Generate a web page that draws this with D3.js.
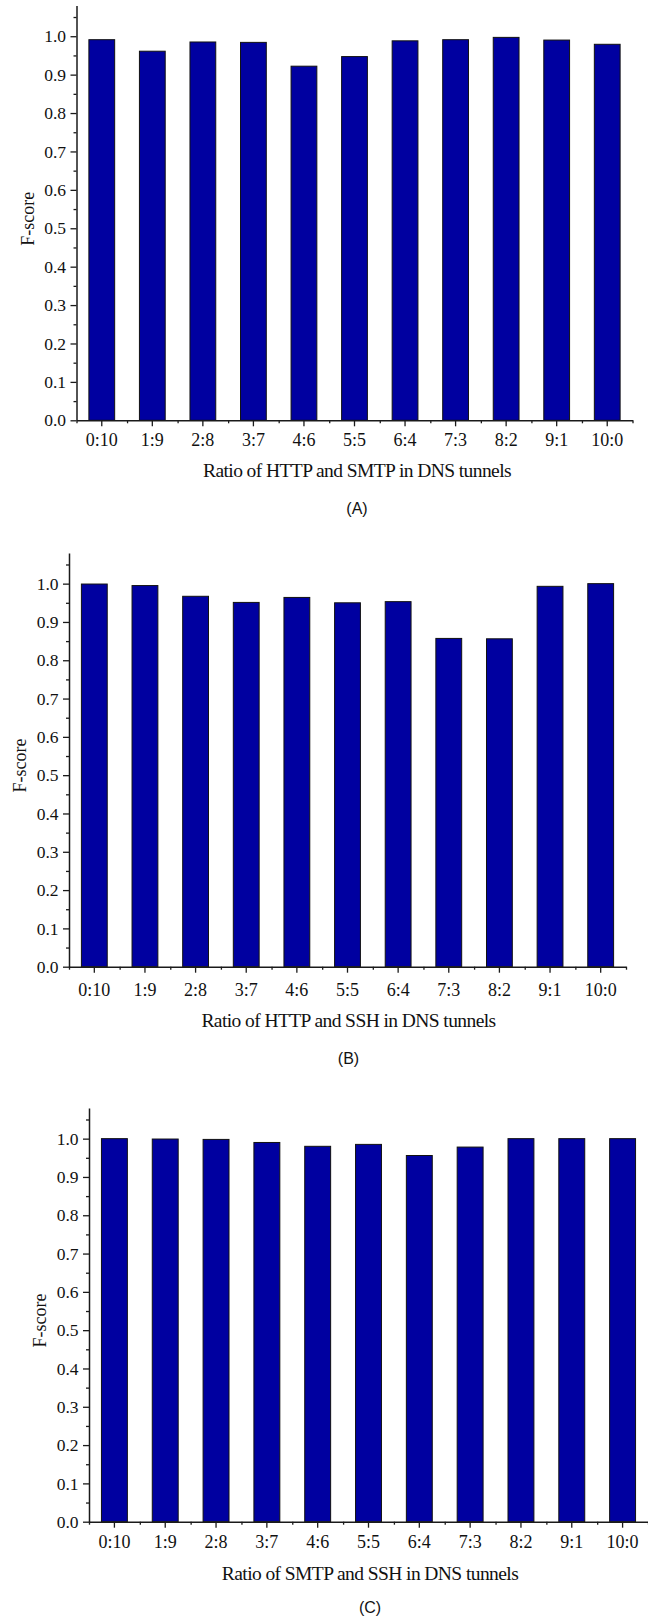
<!DOCTYPE html>
<html>
<head>
<meta charset="utf-8">
<script src="https://cdn.jsdelivr.net/npm/d3@7"></script>
<style>
  html, body { margin: 0; padding: 0; background: #fff; }
  svg { display: block; }
  .tick text { font-family: "Liberation Serif", "Times New Roman", serif; }
</style>
</head>
<body>
<svg id="chart" width="648" height="1619"></svg>
<script>
// ---- data ----
const categories = ["0:10", "1:9", "2:8", "3:7", "4:6", "5:5", "6:4", "7:3", "8:2", "9:1", "10:0"];
const fscoreA = [0.991, 0.961, 0.985, 0.984, 0.922, 0.947, 0.988, 0.991, 0.997, 0.990, 0.979];
const fscoreB = [0.999, 0.995, 0.967, 0.951, 0.964, 0.950, 0.953, 0.857, 0.856, 0.993, 1.000];
const fscoreC = [1.000, 0.999, 0.998, 0.990, 0.980, 0.985, 0.956, 0.978, 1.000, 1.000, 1.000];
const yTicks = [0.0, 0.1, 0.2, 0.3, 0.4, 0.5, 0.6, 0.7, 0.8, 0.9, 1.0];
const yMinorTicks = [0.05, 0.15, 0.25, 0.35, 0.45, 0.55, 0.65, 0.75, 0.85, 0.95, 1.05];
const xTitles = ["Ratio of HTTP and SMTP in DNS tunnels", "Ratio of HTTP and SSH in DNS tunnels", "Ratio of SMTP and SSH in DNS tunnels"];
const panelLabels = ["(A)", "(B)", "(C)"];
const yTitle = "F-score";
const yMax = 1.08;

// ---- layout (pixel positions only) ----
const panels = [
  { values: fscoreA, x0: 76.5, x1: 632.5, yTop: 5.5, yBottom: 420.3, tickLabelY: 446.5, titleY: 477, labelY: 514, titleX: 357 },
  { values: fscoreB, x0: 69,   x1: 626,   yTop: 553,  yBottom: 966.7, tickLabelY: 996.5, titleY: 1027, labelY: 1063.5, titleX: 348.5 },
  { values: fscoreC, x0: 89,   x1: 648,   yTop: 1108, yBottom: 1521.7, tickLabelY: 1548, titleY: 1579.5, labelY: 1612.5, titleX: 370 }
];

const svg = d3.select("#chart");
const serif = '"Liberation Serif", "Times New Roman", serif';
const sans = '"Liberation Sans", Arial, sans-serif';
const axisColor = "#1a1a1a";

panels.forEach((p, i) => {
  const g = svg.append("g");

  const x = d3.scaleBand()
    .domain(categories)
    .range([p.x0, p.x1])
    .paddingInner(0.49)
    .paddingOuter(0.245);

  const xMinor = d3.scaleLinear().domain([0, categories.length]).range([p.x0, p.x1]);

  const y = d3.scaleLinear().domain([0, yMax]).range([p.yBottom, p.yTop]);

  // bars
  g.append("g").selectAll("rect")
    .data(p.values)
    .join("rect")
    .attr("x", (d, j) => x(categories[j]))
    .attr("y", d => y(d))
    .attr("width", x.bandwidth())
    .attr("height", d => y(0) - y(d))
    .attr("fill", "#0000a0")
    .attr("stroke", "#111")
    .attr("stroke-width", 1);

  // y minor ticks
  const yMinorAxis = g.append("g")
    .attr("transform", `translate(${p.x0},0)`)
    .call(d3.axisLeft(y).tickValues(yMinorTicks).tickSize(3).tickFormat(""));
  yMinorAxis.select(".domain").remove();

  // y major axis
  const yAxis = g.append("g")
    .attr("transform", `translate(${p.x0},0)`)
    .call(d3.axisLeft(y).tickValues(yTicks).tickSize(6).tickSizeOuter(0).tickPadding(4.5).tickFormat(d3.format(".1f")));
  yAxis.selectAll("text")
    .attr("font-family", serif)
    .attr("font-size", 17.5)
    .attr("fill", "#111");

  // x minor ticks at band boundaries
  const xMinorAxis = g.append("g")
    .attr("transform", `translate(0,${p.yBottom})`)
    .call(d3.axisBottom(xMinor).tickValues(d3.range(0, categories.length + 1)).tickSize(3).tickFormat(""));
  xMinorAxis.select(".domain").remove();

  // x major axis
  const xAxis = g.append("g")
    .attr("transform", `translate(0,${p.yBottom})`)
    .call(d3.axisBottom(x).tickSize(6).tickSizeOuter(0).tickPadding(4));
  xAxis.selectAll("text")
    .attr("font-family", serif)
    .attr("font-size", 18)
    .attr("fill", "#111")
    .attr("dy", null)
    .attr("y", p.tickLabelY - p.yBottom);

  [yMinorAxis, yAxis, xMinorAxis, xAxis].forEach(a => {
    a.selectAll("line").attr("stroke", axisColor).attr("stroke-width", 1.3);
    a.selectAll(".domain").attr("stroke", axisColor).attr("stroke-width", 1.5);
  });

  // y title
  const yMid = y(0.525);
  g.append("text")
    .attr("transform", `translate(${p.x0 - 43},${yMid}) rotate(-90)`)
    .attr("text-anchor", "middle")
    .attr("font-family", serif)
    .attr("font-size", 18)
    .attr("fill", "#111")
    .text(yTitle);

  // x title
  g.append("text")
    .attr("x", p.titleX)
    .attr("y", p.titleY)
    .attr("text-anchor", "middle")
    .attr("font-family", serif)
    .attr("font-size", 19.5)
    .attr("letter-spacing", -0.58)
    .attr("fill", "#111")
    .text(xTitles[i]);

  // panel label
  g.append("text")
    .attr("x", p.titleX)
    .attr("y", p.labelY)
    .attr("text-anchor", "middle")
    .attr("font-family", sans)
    .attr("font-size", 16)
    .attr("fill", "#111")
    .text(panelLabels[i]);
});
</script>
</body>
</html>
